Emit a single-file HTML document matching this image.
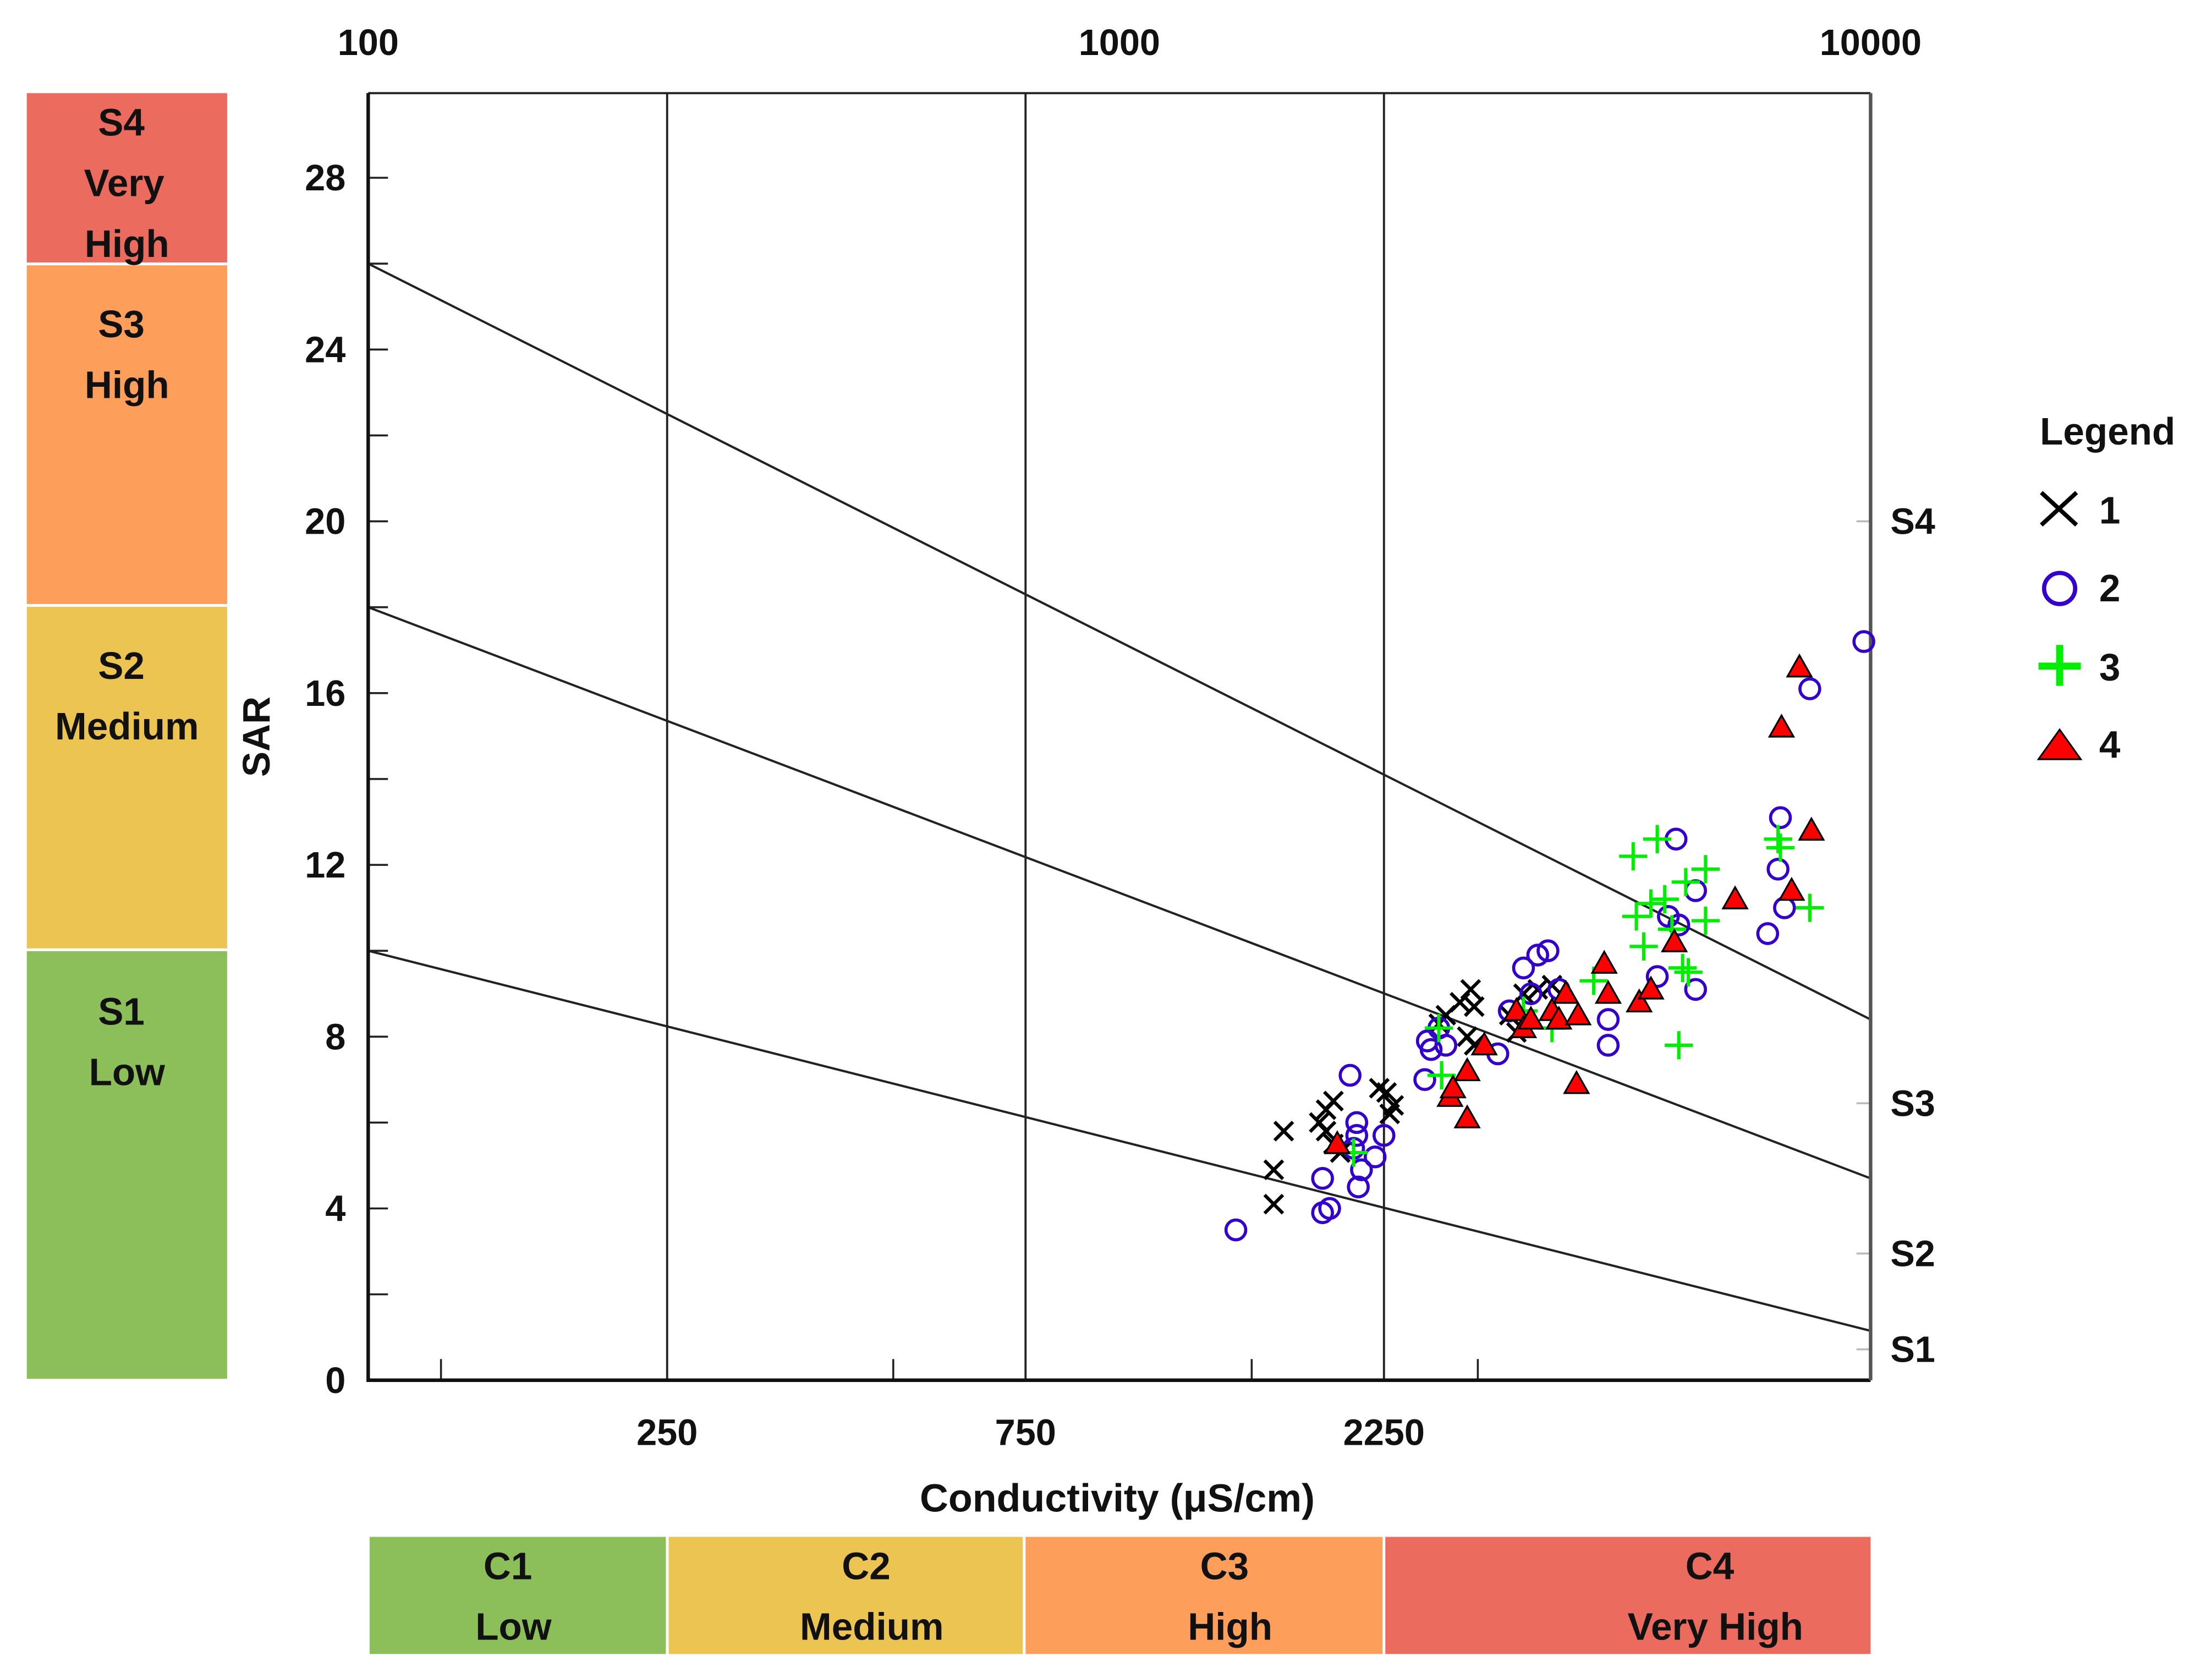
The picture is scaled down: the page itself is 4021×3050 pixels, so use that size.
<!DOCTYPE html>
<html><head><meta charset="utf-8"><style>
html,body{margin:0;padding:0;background:#fff;}
svg{display:block;}
text{font-family:"Liberation Sans",sans-serif;font-weight:bold;fill:#111;}
</style></head><body>
<svg id="chart" width="4021" height="3050" viewBox="0 0 1568 1189" preserveAspectRatio="none" xmlns="http://www.w3.org/2000/svg">
<g>
<rect x="19" y="66" width="142" height="120" fill="#eb6b5e"/>
<rect x="19" y="188" width="142" height="240" fill="#fd9e5a"/>
<rect x="19" y="430" width="142" height="242" fill="#ecc452"/>
<rect x="19" y="674" width="142" height="303" fill="#8cbf5a"/>
<text font-size="27" text-anchor="middle"><tspan x="86" y="96">S4</tspan><tspan x="88" y="139">Very</tspan><tspan x="90" y="182">High</tspan></text>
<text font-size="27" text-anchor="middle"><tspan x="86" y="239">S3</tspan><tspan x="90" y="282">High</tspan></text>
<text font-size="27" text-anchor="middle"><tspan x="86" y="481">S2</tspan><tspan x="90" y="524">Medium</tspan></text>
<text font-size="27" text-anchor="middle"><tspan x="86" y="726">S1</tspan><tspan x="90" y="769">Low</tspan></text>
</g>
<g>
<rect x="262" y="1089" width="210" height="83" fill="#8cbf5a"/>
<rect x="474" y="1089" width="251" height="83" fill="#ecc452"/>
<rect x="727" y="1089" width="253" height="83" fill="#fd9e5a"/>
<rect x="982" y="1089" width="344" height="83" fill="#eb6b5e"/>
<text font-size="27" text-anchor="middle"><tspan x="360" y="1119">C1</tspan><tspan x="364" y="1162">Low</tspan></text>
<text font-size="27" text-anchor="middle"><tspan x="614" y="1119">C2</tspan><tspan x="618" y="1162">Medium</tspan></text>
<text font-size="27" text-anchor="middle"><tspan x="868" y="1119">C3</tspan><tspan x="872" y="1162">High</tspan></text>
<text font-size="27" text-anchor="middle"><tspan x="1212" y="1119">C4</tspan><tspan x="1216" y="1162">Very High</tspan></text>
</g>
<g id="plot"></g>
<text font-size="27" transform="translate(191,522) rotate(-90)" text-anchor="middle">SAR</text>
<text font-size="28" x="792" y="1071" text-anchor="middle">Conductivity (μS/cm)</text>
<g>
<text font-size="27" x="1446" y="315">Legend</text>
<g><path d="M1447 349 L1472 372 M1447 372 L1472 349" stroke="#000" stroke-width="3"/><text font-size="27" x="1488" y="371">1</text></g>
<g><circle cx="1460" cy="417" r="11" fill="none" stroke="#3300cc" stroke-width="3"/><text font-size="27" x="1488" y="426">2</text></g>
<g><path d="M1445 472 L1475 472 M1460 457 L1460 486" stroke="#00ee00" stroke-width="5"/><text font-size="27" x="1488" y="482">3</text></g>
<g><path d="M1445 538 L1460 517 L1475 538 Z" fill="#f00" stroke="#000" stroke-width="1.2"/><text font-size="27" x="1488" y="537">4</text></g>
</g>
</svg>
<script>
const xTickTop = [100, 1000, 10000];
const xTickBottomLabels = [250, 750, 2250];
const xMinorTicks = [125, 500, 1500, 3000];
const yTicks = [0, 4, 8, 12, 16, 20, 24, 28];
const yMinor = [2, 6, 10, 14, 18, 22, 26];
const boundaryStart = [10, 18, 26];
const boundaryEnd = [1.15, 4.7, 8.4];
const rightTicks = [20, 6.45, 2.95, 0.72];
const rightLabels = ["S4", "S3", "S2", "S1"];
const s1EC = [1605,1605,1655,1845,1884,1927,1884,1927,1968,2218,2268,2318,2290,2662,2720,2840,2935,2967,2904,2967,3304,3451,3605,3766,3377];
const s1SAR = [4.1,4.9,5.8,6.0,6.3,6.5,5.8,5.5,5.3,6.8,6.7,6.4,6.2,8.3,8.5,8.8,9.1,8.7,8.0,7.8,8.5,9.0,9.1,9.2,8.1];
const s2EC = [1429,1864,1905,1864,2028,2070,2070,2050,2080,2100,2190,2250,2570,2600,2662,2720,2550,3190,3304,3451,3605,3720,3530,3846,4474,4474,5200,5380,5508,5848,5848,7295,7530,7585,7680,8300,9795,5555];
const s2SAR = [3.5,3.9,4.0,4.7,7.1,6.0,5.7,5.4,4.5,4.9,5.2,5.7,7.9,7.7,8.2,7.8,7.0,7.6,8.6,9.6,9.9,10.0,9.0,9.1,8.4,7.8,9.4,10.8,12.6,11.4,9.1,10.4,11.9,13.1,11.0,16.1,17.2,10.6];
const s3EC = [2662,2685,3451,3766,4280,4830,5200,4877,4989,5100,5321,5440,5620,5720,5555,5675,6030,6030,7530,7585,8300,2050];
const s3SAR = [8.2,7.1,8.6,8.2,9.3,12.2,12.6,10.8,10.1,11.1,11.2,10.5,9.6,9.5,7.8,11.6,11.9,10.7,12.6,12.4,11.0,5.3];
const s4EC = [1950,2755,2780,2904,2904,3060,3377,3451,3530,3766,3846,3930,4080,4060,4420,4474,4920,5100,5480,6601,7610,7850,8040,8341];
const s4SAR = [5.5,6.6,6.8,6.1,7.2,7.8,8.6,8.2,8.4,8.6,8.4,9.0,8.5,6.9,9.7,9.0,8.8,9.1,10.2,11.2,15.2,11.4,16.6,12.8];

const L=261,R=1326,T=66,B=978;
function xS(v){return L+(Math.log10(v)-2)*(R-L)/2;}
function yS(v){return B-v*30.43;}
const NS="http://www.w3.org/2000/svg";
const g=document.getElementById('plot');
function mk(tag,attrs,parent){const e=document.createElementNS(NS,tag);for(const k in attrs)e.setAttribute(k,attrs[k]);(parent||g).appendChild(e);return e;}

const bg=mk('rect',{x:L,y:T,width:R-L,height:B-T,fill:'#fff'});



xTickBottomLabels.forEach(v=>{
  const ln=mk('line',{x1:xS(v),x2:xS(v),y1:T,y2:B,stroke:'#222','stroke-width':1.5});
  
  
  const t=mk('text',{x:xS(v),y:1024,'font-size':26,'text-anchor':'middle'});
  t.textContent=v;
  
  
});
xMinorTicks.forEach(v=>{
  const ln=mk('line',{x1:xS(v),x2:xS(v),y1:B-15,y2:B,stroke:'#222','stroke-width':1.4});
  
  
});
xTickTop.forEach(v=>{
  const t=mk('text',{x:xS(v),y:39,'font-size':26,'text-anchor':'middle'});
  t.textContent=v;
  
  
});
yTicks.forEach(v=>{
  const ln=mk('line',{x1:L,x2:L+14,y1:yS(v),y2:yS(v),stroke:'#222','stroke-width':1.4});
  
  
  const t=mk('text',{x:245,y:yS(v)+9,'font-size':26,'text-anchor':'end'});
  t.textContent=v;
  
  
});
yMinor.forEach(v=>{
  const ln=mk('line',{x1:L,x2:L+14,y1:yS(v),y2:yS(v),stroke:'#222','stroke-width':1.4});
  
  
});
rightTicks.forEach((v,i)=>{
  const ln=mk('line',{x1:R-10,x2:R,y1:yS(v),y2:yS(v),stroke:'#bbb','stroke-width':1.4});
  
  
  const t=mk('text',{x:1340,y:yS(v)+9,'font-size':26});
  t.textContent=rightLabels[i];
  
  
});
boundaryStart.forEach((v,i)=>{
  const ln=mk('line',{x1:xS(100),y1:yS(v),x2:xS(10000),y2:yS(boundaryEnd[i]),stroke:'#222','stroke-width':1.6});
  
  
});
const fr=mk('path',{d:`M${L} ${T} L${R} ${T}`,stroke:'#222','stroke-width':1.5,fill:'none'});


const la=mk('path',{d:`M${L} ${T} L${L} ${B} L${R} ${B}`,stroke:'#111','stroke-width':2.5,fill:'none'});


const ra=mk('line',{x1:R,x2:R,y1:T,y2:B,stroke:'#555','stroke-width':2.5});



s1EC.forEach((v,i)=>{const x=xS(v),y=yS(s1SAR[i]);
  const p=mk('path',{d:`M${x-6.5} ${y-6.5} L${x+6.5} ${y+6.5} M${x-6.5} ${y+6.5} L${x+6.5} ${y-6.5}`,stroke:'#000','stroke-width':2.4});
  
  });
s2EC.forEach((v,i)=>{
  const c=mk('circle',{cx:xS(v),cy:yS(s2SAR[i]),r:7,fill:'none',stroke:'#3300cc','stroke-width':2.2});
  
  });
s3EC.forEach((v,i)=>{const x=xS(v),y=yS(s3SAR[i]);
  const p=mk('path',{d:`M${x-10} ${y} L${x+10} ${y} M${x} ${y-10} L${x} ${y+10}`,stroke:'#00ee00','stroke-width':2.4});
  
  });
s4EC.forEach((v,i)=>{const x=xS(v),y=yS(s4SAR[i]);
  const p=mk('path',{d:`M${x-8.5} ${y+6.5} L${x} ${y-8.5} L${x+8.5} ${y+6.5} Z`,fill:'#f00',stroke:'#000','stroke-width':1.3});
  
  });
</script>
</body></html>
